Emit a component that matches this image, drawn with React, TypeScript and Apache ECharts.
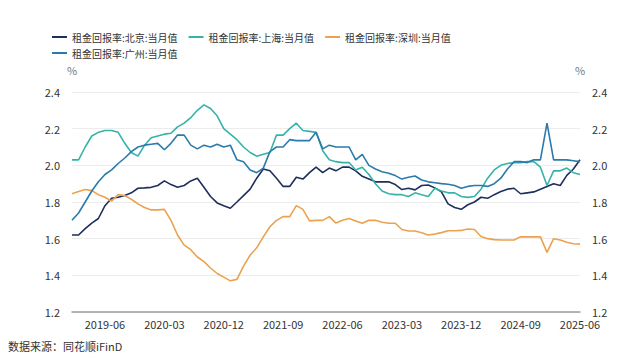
import React, { useEffect, useRef } from "react";
import * as echarts from "echarts";

const months: string[] = [
  "2019-01","2019-02","2019-03","2019-04","2019-05","2019-06","2019-07","2019-08","2019-09","2019-10","2019-11","2019-12",
  "2020-01","2020-02","2020-03","2020-04","2020-05","2020-06","2020-07","2020-08","2020-09","2020-10","2020-11","2020-12",
  "2021-01","2021-02","2021-03","2021-04","2021-05","2021-06","2021-07","2021-08","2021-09","2021-10","2021-11","2021-12",
  "2022-01","2022-02","2022-03","2022-04","2022-05","2022-06","2022-07","2022-08","2022-09","2022-10","2022-11","2022-12",
  "2023-01","2023-02","2023-03","2023-04","2023-05","2023-06","2023-07","2023-08","2023-09","2023-10","2023-11","2023-12",
  "2024-01","2024-02","2024-03","2024-04","2024-05","2024-06","2024-07","2024-08","2024-09","2024-10","2024-11","2024-12",
  "2025-01","2025-02","2025-03","2025-04","2025-05","2025-06",
];

const beijing: number[] = [
  1.62, 1.62, 1.655, 1.685, 1.71, 1.78, 1.82, 1.826, 1.835, 1.85, 1.875, 1.877,
  1.88, 1.89, 1.915, 1.895, 1.88, 1.89, 1.915, 1.93, 1.88, 1.83, 1.795, 1.78,
  1.766, 1.8, 1.835, 1.87, 1.93, 1.98, 1.97, 1.93, 1.885, 1.885, 1.935, 1.925,
  1.96, 1.99, 1.96, 1.985, 1.97, 1.99, 1.99, 1.97, 1.94, 1.925, 1.91, 1.91,
  1.91, 1.895, 1.868, 1.875, 1.866, 1.89, 1.893, 1.877, 1.855, 1.79, 1.77, 1.76,
  1.785, 1.8, 1.826, 1.82, 1.84, 1.857, 1.87, 1.875, 1.845, 1.85, 1.855, 1.87,
  1.885, 1.9, 1.89, 1.945, 1.98, 2.03,
];

const shanghai: number[] = [
  2.03, 2.03, 2.1, 2.16, 2.18, 2.19, 2.19, 2.18, 2.12, 2.07, 2.05, 2.11,
  2.15, 2.16, 2.17, 2.175, 2.21, 2.23, 2.26, 2.3, 2.33, 2.31, 2.27, 2.2,
  2.17, 2.14, 2.1, 2.07, 2.05, 2.06, 2.07, 2.165, 2.165, 2.2, 2.23, 2.19,
  2.185, 2.18, 2.08, 2.03, 2.02, 2.015, 2.015, 1.975, 1.99, 1.95, 1.9, 1.86,
  1.845, 1.84, 1.84, 1.83, 1.85, 1.84, 1.83, 1.875, 1.86, 1.85, 1.85, 1.83,
  1.825, 1.83, 1.87, 1.93, 1.975, 2.0, 2.01, 2.015, 2.015, 2.02, 2.02, 1.99,
  1.89, 1.97, 1.97, 1.985, 1.96, 1.95,
];

const shenzhen: number[] = [
  1.845, 1.857, 1.868, 1.862, 1.84, 1.826, 1.805, 1.84, 1.835, 1.815, 1.79, 1.77,
  1.757, 1.757, 1.76, 1.7, 1.62, 1.565, 1.54, 1.5, 1.475, 1.44, 1.41, 1.39,
  1.37, 1.378, 1.45, 1.51, 1.55, 1.61, 1.665, 1.7, 1.72, 1.72, 1.78, 1.76,
  1.697, 1.7, 1.7, 1.72, 1.685, 1.7, 1.71, 1.697, 1.684, 1.7, 1.7, 1.69,
  1.684, 1.684, 1.65, 1.642, 1.642, 1.632, 1.62, 1.625, 1.633, 1.643, 1.643, 1.645,
  1.653, 1.65, 1.612, 1.6, 1.595, 1.593, 1.593, 1.593, 1.61, 1.61, 1.61, 1.61,
  1.525, 1.6, 1.593, 1.58, 1.572, 1.57,
];

const guangzhou: number[] = [
  1.7, 1.74, 1.8, 1.86, 1.91, 1.95, 1.975, 2.01, 2.04, 2.075, 2.1, 2.11,
  2.115, 2.12, 2.085, 2.12, 2.165, 2.165, 2.11, 2.09, 2.11, 2.1, 2.115, 2.1,
  2.11, 2.03, 2.02, 1.975, 1.96, 1.985, 2.075, 2.1, 2.1, 2.14, 2.135, 2.135,
  2.135, 2.18, 2.09, 2.11, 2.1, 2.1, 2.1, 2.03, 2.06, 2.0, 1.98, 1.965,
  1.957, 1.944, 1.925, 1.935, 1.942, 1.92, 1.91, 1.905, 1.9, 1.897, 1.89, 1.875,
  1.885, 1.89, 1.89, 1.885, 1.9, 1.93, 1.98, 2.02, 2.02, 2.015, 2.03, 2.03,
  2.23, 2.03, 2.03, 2.03, 2.025, 2.02,
];

const seriesNames = [
  "租金回报率:北京:当月值",
  "租金回报率:上海:当月值",
  "租金回报率:深圳:当月值",
  "租金回报率:广州:当月值",
];
const colors = ["#1f2f5c", "#35b3a9", "#eba24f", "#2b7aab"];
const sourceText = "数据来源：同花顺iFinD";

const FONT = "'Noto Sans CJK SC', 'Noto Sans', sans-serif";

export default function App() {
  const ref = useRef<HTMLDivElement>(null);
  useEffect(() => {
    document.body.style.margin = "0";
    if (!ref.current) return;
    const chart = echarts.init(ref.current, undefined, { renderer: "svg" });
    const dataSets = [beijing, shanghai, shenzhen, guangzhou];
    const legendCommon = {
      orient: "horizontal" as const,
      left: 47,
      itemWidth: 15,
      itemHeight: 2,
      itemGap: 11,
      icon: "rect",
      textStyle: { fontSize: 10, color: "#333", fontFamily: FONT },
    };
    const yAxisCommon = {
      type: "value" as const,
      min: 1.2,
      max: 2.4,
      interval: 0.2,
      name: "%",
      nameLocation: "end" as const,
      nameGap: 17,
      nameTextStyle: { color: "#777", fontSize: 11, fontFamily: FONT },
      axisLine: { show: false },
      axisTick: { show: false },
    };
    const yLabel = {
      color: "#333",
      fontSize: 11,
      fontFamily: FONT,
      margin: 12,
      formatter: (v: number) => v.toFixed(1),
    };
    chart.setOption({
      animation: false,
      color: colors,
      legend: [
        { ...legendCommon, top: 27, data: seriesNames.slice(0, 3) },
        { ...legendCommon, top: 43, data: seriesNames.slice(3) },
      ],
      grid: { left: 72, right: 60, top: 92, bottom: 47 },
      xAxis: {
        type: "category",
        data: months,
        boundaryGap: false,
        axisLine: { lineStyle: { color: "#9a9da3", width: 1.5 } },
        axisTick: { show: false },
        axisLabel: {
          color: "#333",
          fontSize: 11,
          fontFamily: FONT,
          margin: 6,
          interval: (index: number) => index >= 5 && (index - 5) % 9 === 0,
        },
        splitLine: { show: false },
      },
      yAxis: [
        {
          ...yAxisCommon,
          position: "left",
          axisLabel: yLabel,
          splitLine: { show: true, lineStyle: { color: "#ececec" } },
        },
        {
          ...yAxisCommon,
          position: "right",
          axisLabel: { ...yLabel, padding: [0, 0, 3, 0] },
          splitLine: { show: false },
        },
      ],
      graphic: [
        {
          type: "text",
          left: 8,
          top: 340,
          style: { text: sourceText, fontSize: 11, fill: "#333", fontFamily: FONT },
        },
      ],
      series: seriesNames.map((name, i) => ({
        name,
        type: "line",
        data: dataSets[i],
        showSymbol: false,
        symbol: "none",
        lineStyle: { width: 1.6, color: colors[i] },
        itemStyle: { color: colors[i] },
      })),
    });
    return () => chart.dispose();
  }, []);
  return <div ref={ref} style={{ width: 640, height: 359 }} />;
}
